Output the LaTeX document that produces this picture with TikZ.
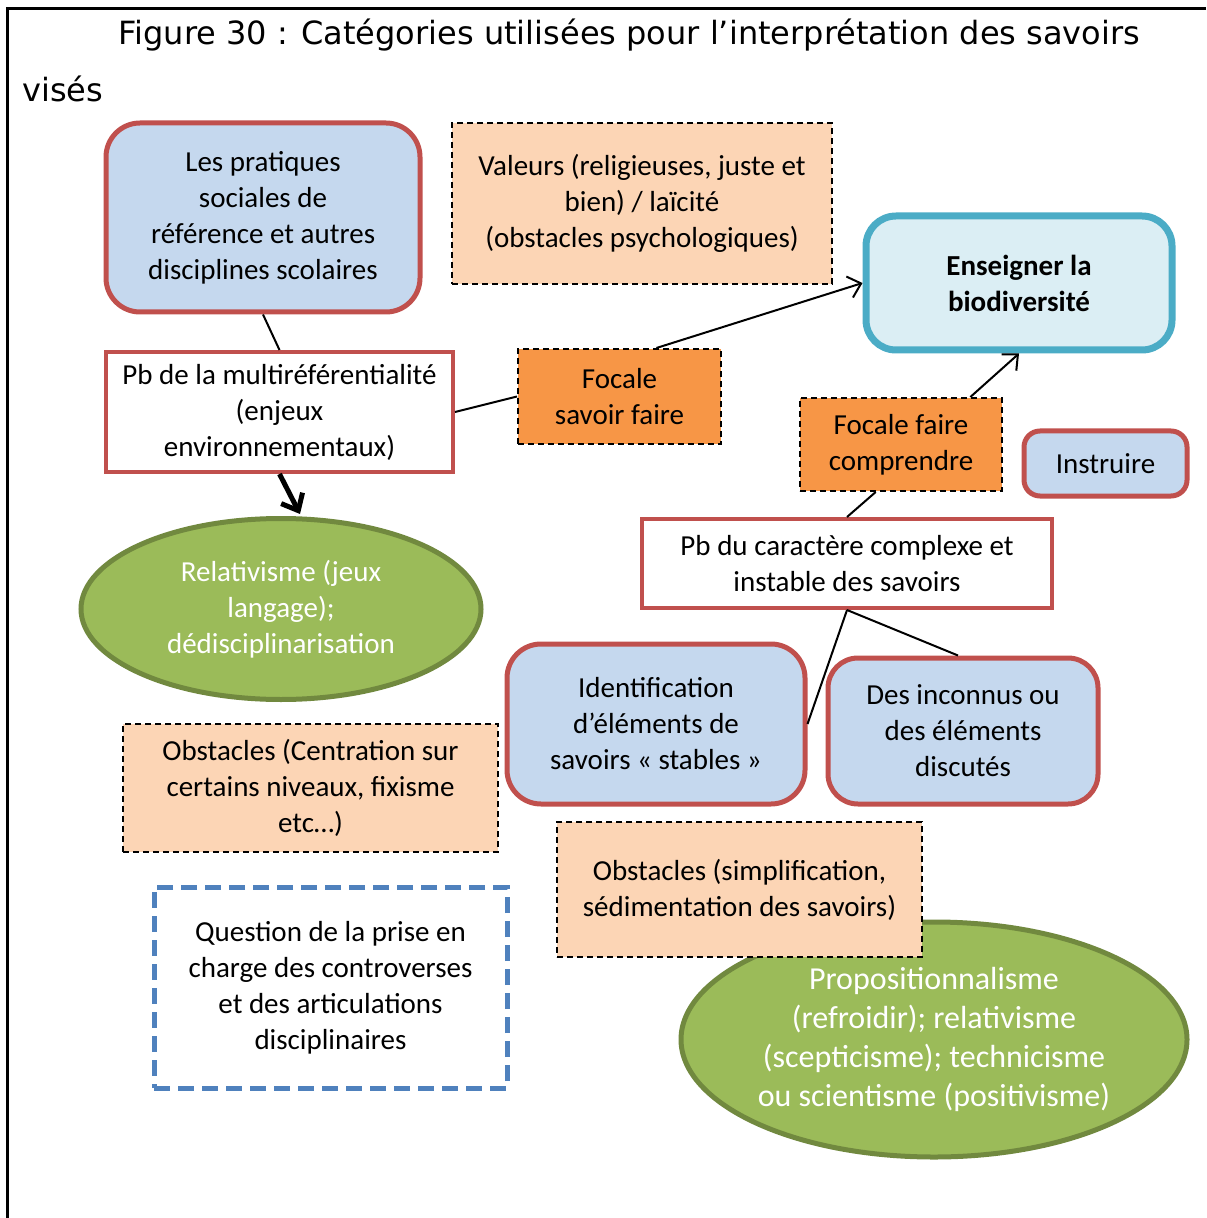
\documentclass[tikz,border=0pt]{standalone}
\usepackage{fontspec}
\setmainfont{Carlito}
\newfontfamily\titlefont{DejaVu Sans}
\usetikzlibrary{shapes.geometric,arrows.meta,calc}
\definecolor{myred}{HTML}{C0504D}
\definecolor{lblue}{HTML}{C5D8EE}
\definecolor{peachc}{HTML}{FCD5B5}
\definecolor{orangec}{HTML}{F79646}
\definecolor{greenc}{HTML}{9BBB59}
\definecolor{dgreenc}{HTML}{71893F}
\definecolor{cyanfill}{HTML}{DBEEF4}
\definecolor{cyanline}{HTML}{4BACC6}
\definecolor{bluedash}{HTML}{4F81BD}
\begin{document}
\begin{tikzpicture}[x=0.5pt,y=-0.5pt,
  box/.style={draw, align=center, inner sep=0pt, font=\fontsize{14.5}{18}\selectfont},
  redround/.style={box, draw=myred, line width=2.5pt, fill=lblue, rounded corners=17pt},
  redrect/.style={box, draw=myred, line width=2pt, fill=white},
  peachbox/.style={box, draw=black, line width=1pt, dash pattern=on 3pt off 2pt, fill=peachc},
  focalbox/.style={box, draw=black, line width=1pt, dash pattern=on 3pt off 2pt, fill=orangec},
  greenell/.style={ellipse, draw=dgreenc, fill=greenc, line width=2.5pt, text=white, inner sep=0pt, align=center},
  conn/.style={line width=1pt},
  arr/.style={conn, -{Straight Barb[length=6pt,width=11pt,line width=1pt]}}
]
\useasboundingbox (0,0) rectangle (1206,1218);
% frame
\draw[line width=1.5pt] (7,1218) -- (7,9) -- (1206,9);
% title
\node[anchor=base west, inner sep=0pt, font=\titlefont\fontsize{16}{19}\selectfont] (t1) at (118,45) {Figure 30 : Catégories utilisées pour l’interprétation des savoirs};
\node[anchor=base west, inner sep=0pt, font=\titlefont\fontsize{16}{19}\selectfont] (t2) at (22,102) {visés};

% nodes
\node[redround, minimum width=157pt, minimum height=94.5pt] (n1) at (263,217.5)
  {Les pratiques\\sociales de\\référence et autres\\disciplines scolaires};
\node[peachbox, minimum width=190pt, minimum height=80.5pt] (n2) at (642,203.5)
  {Valeurs (religieuses, juste et\\bien) / laïcité\\(obstacles psychologiques)};
\node[box, draw=cyanline, fill=cyanfill, line width=3.5pt, rounded corners=15pt, minimum width=153pt, minimum height=67pt, font=\fontsize{14.5}{18}\selectfont\bfseries] (n3) at (1019,283)
  {Enseigner la\\biodiversité};
\node[redrect, minimum width=173.5pt, minimum height=60pt] (n4) at (279.5,412)
  {Pb de la multiréférentialité\\(enjeux\\environnementaux)};
\node[focalbox, minimum width=101.5pt, minimum height=47.5pt] (n5) at (619.5,396.5)
  {Focale\\savoir faire};
\node[focalbox, minimum width=101pt, minimum height=46.5pt] (n6) at (901,444.5)
  {Focale faire\\comprendre};
\node[redround, rounded corners=8pt, minimum width=81.5pt, minimum height=32.5pt] (n7) at (1105.5,463.5)
  {Instruire};
\node[greenell, minimum width=200pt, minimum height=90.5pt, font=\fontsize{14.5}{18}\selectfont] (n8) at (281,609)
  {Relativisme (jeux\\langage);\\dédisciplinarisation};
\node[redrect, minimum width=205pt, minimum height=44.5pt] (n9) at (847,563.5)
  {Pb du caractère complexe et\\instable des savoirs};
\node[redround, minimum width=149pt, minimum height=80pt] (n10) at (656,724)
  {Identification\\d’éléments de\\savoirs « stables »};
\node[redround, rounded corners=15pt, minimum width=135pt, minimum height=73pt] (n11) at (963,731)
  {Des inconnus ou\\des éléments\\discutés};
\node[peachbox, minimum width=187.5pt, minimum height=64pt] (n12) at (310.5,788)
  {Obstacles (Centration sur\\certains niveaux, fixisme\\etc…)};
\node[greenell, minimum width=253pt, minimum height=117.5pt, font=\fontsize{16}{19.5}\selectfont] (n15) at (934,1039.5)
  {Propositionnalisme\\(refroidir); relativisme\\(scepticisme); technicisme\\ou scientisme (positivisme)};
\node[peachbox, minimum width=182.5pt, minimum height=67.5pt] (n13) at (739.5,889.5)
  {Obstacles (simplification,\\sédimentation des savoirs)};
\node[box, draw=bluedash, line width=2.5pt, dash pattern=on 8pt off 4pt, fill=white, minimum width=176.5pt, minimum height=100.5pt] (n14) at (330.5,987.5)
  {Question de la prise en\\charge des controverses\\et des articulations\\disciplinaires};

% connectors
\draw[conn] (n1.south) -- (n4.north);
\draw[conn] (n4.east) -- (n5.west);
\draw[arr] ($(n5.north west)!0.68!(n5.north east)$) -- (n3.west);
\draw[arr] ($(n6.north west)!0.84!(n6.north east)$) -- (n3.south);
\draw[conn] ($(n6.south west)!0.376!(n6.south east)$) -- (n9.north);
\draw[line width=2.5pt, -{Straight Barb[length=7pt,width=12pt,line width=2.5pt]}] (n4.south) -- ($(n8.north)+(19,-2)$);
\draw[conn] (n9.south) -- (n10.east);
\draw[conn] (n9.south) -- ($(n11.north)+(-5,0)$);
\end{tikzpicture}
\end{document}
